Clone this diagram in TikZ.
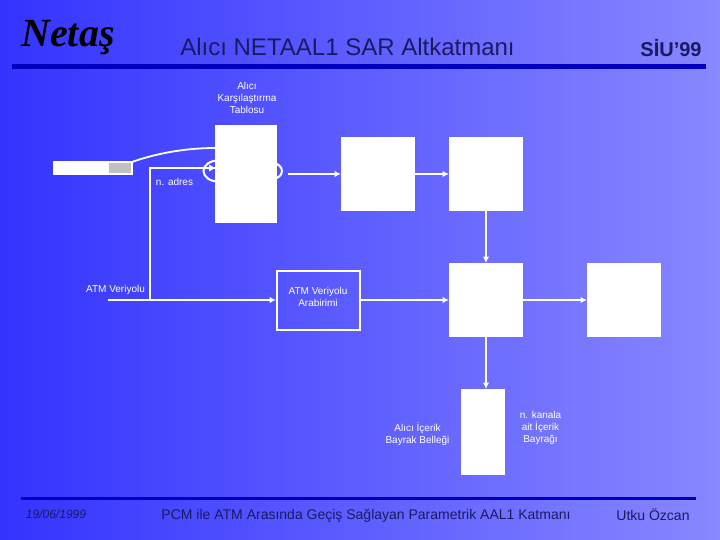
\documentclass[tikz,border=0pt]{standalone}
\usepackage{fontspec}
\setmainfont{Liberation Sans}
\newfontfamily\logofont{Liberation Serif}
\usetikzlibrary{arrows.meta}
\definecolor{darktext}{RGB}{26,26,100}
\definecolor{rulecol}{RGB}{0,0,190}
\tikzset{
 x=1pt,y=-1pt,
 whitebox/.style={draw=none,fill=white,inner sep=0pt,anchor=north west},
 lbl/.style={text=white,font=\fontsize{10}{12}\selectfont,align=center,inner sep=0pt},
 wire/.style={draw=white,line width=1.5pt},
 arr/.style={wire,-{Latex[length=6.5pt,width=6.5pt]}},
 rulebar/.style={fill=rulecol,draw=none},
 foot/.style={text=darktext,inner sep=0pt}
}
\begin{document}
\begin{tikzpicture}
\useasboundingbox (0,0) rectangle (720,540);
\shade[left color={rgb,255:red,51;green,51;blue,255},right color={rgb,255:red,136;green,136;blue,255}] (0,0) rectangle (720,540);
% rules
\fill[rulebar] (12,64) rectangle (706,69);
\fill[rulebar] (21,496.5) rectangle (696,500);
% titles
\node[foot,font=\fontsize{24}{26}\selectfont] (title) at (347.5,47) {Alıcı NETAAL1 SAR Altkatmanı};
\node[foot,font=\fontsize{20}{22}\selectfont\bfseries] (siu) at (671,48) {SİU’99};
\node[text=black,inner sep=0pt,font=\logofont\fontsize{40}{42}\selectfont\bfseries\itshape] (logo) at (68,38) {Netaş};
% footer
\node[foot,font=\fontsize{12}{14}\selectfont\itshape] (date) at (56,514) {19/06/1999};
\node[foot,font=\fontsize{14}{16}\selectfont] (foot) at (366,516) {PCM ile ATM Arasında Geçiş Sağlayan Parametrik AAL1 Katmanı};
\node[foot,font=\fontsize{14}{16}\selectfont] (author) at (653,515) {Utku Özcan};
% circles behind the table
\draw[wire,line width=2pt] (218,171) ellipse [x radius=14.5,y radius=10.5];
\draw[wire,line width=2pt] (272,171) ellipse [x radius=10,y radius=8];
% boxes
\node[whitebox,minimum width=62pt,minimum height=98pt] (table) at (215,125) {};
\node[whitebox,minimum width=74pt,minimum height=74pt] (b2) at (341,137) {};
\node[whitebox,minimum width=74pt,minimum height=74pt] (b3) at (449,137) {};
\node[whitebox,minimum width=74pt,minimum height=74pt] (b4) at (449,263) {};
\node[whitebox,minimum width=74pt,minimum height=74pt] (b5) at (587,263) {};
\node[whitebox,minimum width=44pt,minimum height=86pt] (flag) at (461,389) {};
\node[draw=white,line width=2pt,inner sep=0pt,anchor=north west,minimum width=83pt,minimum height=59pt] (atm) at (276,270) {};
\node[lbl] at (318,297) {ATM Veriyolu\\Arabirimi};
\node[whitebox,minimum width=80pt,minimum height=14pt] (bar) at (53,161) {};
\node[fill={rgb,255:red,192;green,192;blue,192},inner sep=0pt,anchor=north west,minimum width=22pt,minimum height=10pt] (slot) at (109,163) {};
% free ends
\coordinate (busstart) at (108,300);
\coordinate (tap) at (150,300);
\coordinate (tablein) at (215,168);
\coordinate (barout) at (132,162);
\coordinate (tablecurve) at (215,148);
\coordinate (tableout) at (288,174);
\coordinate (b2in) at (341,174);
\coordinate (b2out) at (415,174);
\coordinate (b3in) at (449,174);
\coordinate (b3down) at (486,211);
\coordinate (b4top) at (486,263);
\coordinate (b4bot) at (486,337);
\coordinate (flagtop) at (486,389);
\coordinate (atmout) at (360,300);
\coordinate (b4in) at (449,300);
\coordinate (b4out) at (523,300);
\coordinate (b5in) at (587,300);
\coordinate (atmin) at (276,300);
% connectors
\draw[wire,line width=1.8pt] (barout) .. controls (160,152) and (190,148) .. (tablecurve);
\draw[wire] (tap) -- (150,168) -- (tablein);
\fill[white] (215,168) -- (209,164.5) -- (209,171.5) -- cycle;
\draw[arr] (busstart) -- (atmin);
\draw[arr] (tableout) -- (b2in);
\draw[arr] (b2out) -- (b3in);
\draw[arr] (b3down) -- (b4top);
\draw[arr] (b4bot) -- (flagtop);
\draw[arr] (atmout) -- (b4in);
\draw[arr] (b4out) -- (b5in);
% labels
\node[lbl] (l1) at (247,98) {Alıcı\\Karşılaştırma\\Tablosu};
\node[lbl] (l2) at (174.5,182) {n. adres};
\node[lbl] (l3) at (115.5,289.5) {ATM Veriyolu};
\node[lbl] (l4) at (417.5,434) {Alıcı İçerik\\Bayrak Belleği};
\node[lbl] (l5) at (540.5,428) {n. kanala\\ait İçerik\\Bayrağı};
\end{tikzpicture}
\end{document}
